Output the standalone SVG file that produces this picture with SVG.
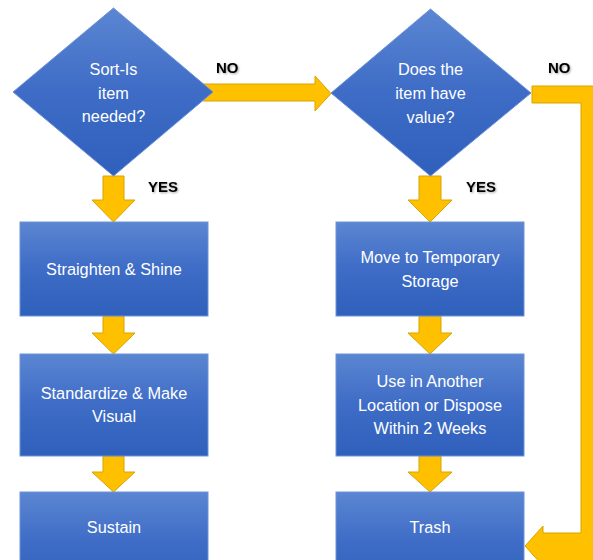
<svg xmlns="http://www.w3.org/2000/svg" width="593" height="560" viewBox="0 0 593 560">
<defs>
<linearGradient id="bg" x1="0" y1="0" x2="0" y2="1">
<stop offset="0" stop-color="#5B86D2"/>
<stop offset="0.5" stop-color="#3E6CC6"/>
<stop offset="1" stop-color="#2F60BC"/>
</linearGradient>
<filter id="ts" x="-20%" y="-20%" width="140%" height="160%">
<feGaussianBlur in="SourceAlpha" stdDeviation="1"/>
<feOffset dx="0.5" dy="1" result="b"/>
<feComponentTransfer><feFuncA type="linear" slope="0.35"/></feComponentTransfer>
<feMerge><feMergeNode/><feMergeNode in="SourceGraphic"/></feMerge>
</filter>
</defs>
<style>
.shape{fill:url(#bg);stroke:#6D93D8;stroke-width:1}
.t{font-family:"Liberation Sans",Arial,sans-serif;font-size:16.3px;fill:#FFFFFF;text-anchor:middle}
.arr{fill:#FFC000;stroke:#D9A300;stroke-width:1;stroke-linejoin:miter}
.lbl{font-family:"Liberation Sans",Arial,sans-serif;font-size:15px;font-weight:bold;fill:#000000;filter:url(#ts)}
</style>
<rect width="593" height="560" fill="#FFFFFF"/>

<g id="connectors">
<path class="arr" d="M103,176 H124 V200 H135 L113.5,222 L92,200 H103 Z"/>
<path class="arr" d="M103,316 H124 V333 H135 L113.5,354 L92,333 H103 Z"/>
<path class="arr" d="M103,456 H124 V472 H135 L113.5,492 L92,472 H103 Z"/>
<path class="arr" d="M419,176 H441 V200 H452 L430,222 L408,200 H419 Z"/>
<path class="arr" d="M419,316 H441 V333 H452 L430,354 L408,333 H419 Z"/>
<path class="arr" d="M419,456 H441 V472 H452 L430,492 L408,472 H419 Z"/>
<path class="arr" d="M203,84 H315 V76 L331,93.5 L315,111 V101 H203 Z"/>
<path class="arr" d="M532,86 H600 V575 H543 V566 L525,546 L543,526 V533 H581 V103 H532 Z"/>
<text class="lbl" x="216" y="73">NO</text>
<text class="lbl" x="148" y="192">YES</text>
<text class="lbl" x="548" y="73">NO</text>
<text class="lbl" x="466" y="192">YES</text>
</g>

<g id="sort">
<polygon class="shape" points="113.5,8 213,92 113.5,176 13,92"/>
<text class="t" x="113.5" y="75">Sort-Is</text>
<text class="t" x="113.5" y="99">item</text>
<text class="t" x="113.5" y="122">needed?</text>
</g>

<g id="value">
<polygon class="shape" points="430.5,9 531,93 430.5,176 331,93"/>
<text class="t" x="430.5" y="75">Does the</text>
<text class="t" x="430.5" y="99">item have</text>
<text class="t" x="430.5" y="123">value?</text>
</g>

<g id="straighten">
<rect class="shape" x="20" y="222" width="188" height="94"/>
<text class="t" x="114" y="275">Straighten &amp; Shine</text>
</g>

<g id="standardize">
<rect class="shape" x="20" y="354" width="188" height="102"/>
<text class="t" x="114" y="399">Standardize &amp; Make</text>
<text class="t" x="114" y="422">Visual</text>
</g>

<g id="sustain">
<rect class="shape" x="20" y="492" width="188" height="100"/>
<text class="t" x="114" y="533">Sustain</text>
</g>

<g id="temporary">
<rect class="shape" x="336" y="222" width="188" height="94"/>
<text class="t" x="430" y="263">Move to Temporary</text>
<text class="t" x="430" y="287">Storage</text>
</g>

<g id="another">
<rect class="shape" x="336" y="354" width="188" height="102"/>
<text class="t" x="430" y="387">Use in Another</text>
<text class="t" x="430" y="411">Location or Dispose</text>
<text class="t" x="430" y="434">Within 2 Weeks</text>
</g>

<g id="trash">
<rect class="shape" x="336" y="492" width="188" height="100"/>
<text class="t" x="430" y="533">Trash</text>
</g>
</svg>
